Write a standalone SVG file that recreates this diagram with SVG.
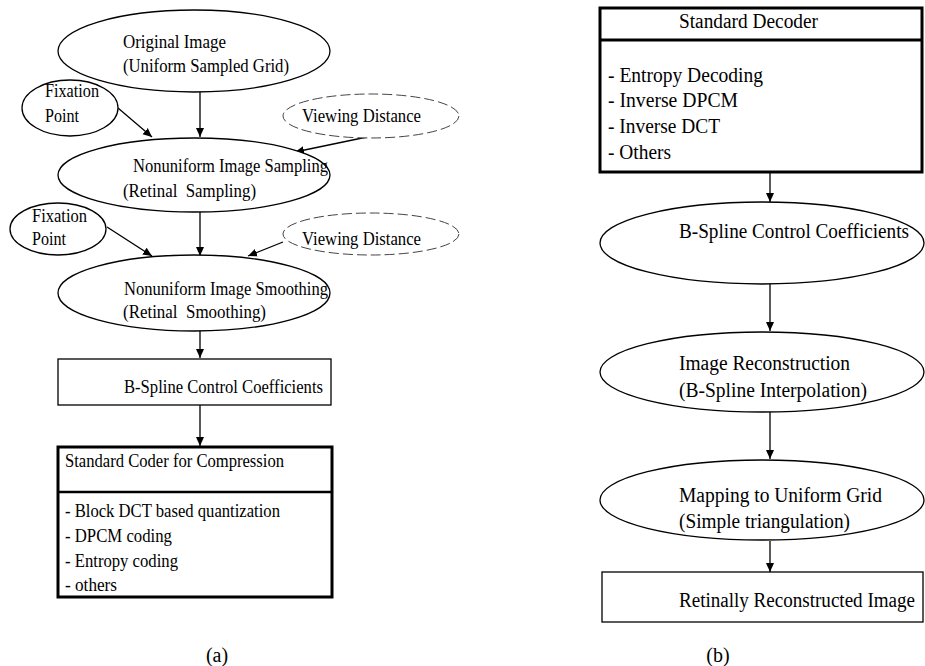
<svg xmlns="http://www.w3.org/2000/svg" width="925" height="666" viewBox="0 0 925 666">
<style>
.n{fill:#fff;stroke:#000;stroke-width:1.3}
.d{fill:#fff;stroke:#444;stroke-width:1;stroke-dasharray:10 4}
.b{fill:#fff;stroke:#000;stroke-width:3}
.t{font-family:"Liberation Serif","Times New Roman",serif;font-size:19px;fill:#000;white-space:pre}
.u{font-family:"Liberation Serif","Times New Roman",serif;font-size:20px;fill:#000;white-space:pre}
.c{stroke:#000;stroke-width:1.3;fill:none;marker-end:url(#ah)}
</style>
<defs>
<marker id="ah" markerWidth="10" markerHeight="10" refX="9" refY="5" orient="auto" markerUnits="userSpaceOnUse">
<path d="M0,1 L9,5 L0,9 Z" fill="#000"/>
</marker>
</defs>
<rect width="925" height="666" fill="#fff"/>
<g id="connectors">
<line class="c" x1="200" y1="92" x2="200" y2="137"/>
<line class="c" x1="118" y1="108" x2="152" y2="137"/>
<line class="c" x1="367" y1="137" x2="295" y2="152"/>
<line class="c" x1="200" y1="212" x2="200" y2="256"/>
<line class="c" x1="107" y1="227" x2="152" y2="256"/>
<line class="c" x1="283" y1="242" x2="248" y2="256"/>
<line class="c" x1="200" y1="331" x2="200" y2="358"/>
<line class="c" x1="200" y1="405" x2="200" y2="446"/>
<line class="c" x1="770" y1="172" x2="770" y2="202"/>
<line class="c" x1="770" y1="283" x2="770" y2="331"/>
<line class="c" x1="770" y1="412" x2="770" y2="459"/>
<line class="c" x1="770" y1="541" x2="770" y2="572"/>
</g>
<g id="original">
<ellipse class="n" cx="194" cy="51" rx="136" ry="41"/>
<text class="t" x="123" y="48" textLength="103" lengthAdjust="spacingAndGlyphs">Original Image</text>
<text class="t" x="123" y="72" textLength="166" lengthAdjust="spacingAndGlyphs">(Uniform Sampled Grid)</text>
</g>
<g id="fixation1">
<ellipse class="n" cx="70" cy="108" rx="48" ry="28"/>
<text class="t" x="45" y="97" textLength="54" lengthAdjust="spacingAndGlyphs">Fixation</text>
<text class="t" x="45" y="122" textLength="34" lengthAdjust="spacingAndGlyphs">Point</text>
</g>
<g id="viewing1">
<ellipse class="d" cx="371" cy="116" rx="88" ry="22"/>
<text class="t" x="302" y="122" textLength="119" lengthAdjust="spacingAndGlyphs">Viewing Distance</text>
</g>
<g id="sampling">
<ellipse class="n" cx="194" cy="175" rx="136" ry="37"/>
<text class="t" x="133" y="172" textLength="195" lengthAdjust="spacingAndGlyphs">Nonuniform Image Sampling</text>
<text class="t" x="123" y="197" textLength="133" lengthAdjust="spacingAndGlyphs">(Retinal  Sampling)</text>
</g>
<g id="fixation2">
<ellipse class="n" cx="58" cy="229" rx="48" ry="26"/>
<text class="t" x="32" y="222" textLength="55" lengthAdjust="spacingAndGlyphs">Fixation</text>
<text class="t" x="32" y="245" textLength="34" lengthAdjust="spacingAndGlyphs">Point</text>
</g>
<g id="viewing2">
<ellipse class="d" cx="371" cy="234" rx="88" ry="21"/>
<text class="t" x="302" y="245" textLength="119" lengthAdjust="spacingAndGlyphs">Viewing Distance</text>
</g>
<g id="smoothing">
<ellipse class="n" cx="194" cy="293" rx="136" ry="38"/>
<text class="t" x="124" y="295" textLength="204" lengthAdjust="spacingAndGlyphs">Nonuniform Image Smoothing</text>
<text class="t" x="123" y="318" textLength="143" lengthAdjust="spacingAndGlyphs">(Retinal  Smoothing)</text>
</g>
<g id="bspline-a">
<rect class="n" x="58" y="359" width="273" height="46"/>
<text class="t" x="124" y="393" textLength="199" lengthAdjust="spacingAndGlyphs">B-Spline Control Coefficients</text>
</g>
<g id="coder">
<rect class="b" x="58" y="447" width="274" height="150" stroke-width="2.5"/>
<line x1="58" y1="492" x2="332" y2="492" stroke="#000" stroke-width="2.5"/>
<text class="t" x="65" y="467" textLength="219" lengthAdjust="spacingAndGlyphs">Standard Coder for Compression</text>
<text class="t" x="65" y="517" textLength="215" lengthAdjust="spacingAndGlyphs">- Block DCT based quantization</text>
<text class="t" x="65" y="542" textLength="107" lengthAdjust="spacingAndGlyphs">- DPCM coding</text>
<text class="t" x="65" y="567" textLength="113" lengthAdjust="spacingAndGlyphs">- Entropy coding</text>
<text class="t" x="65" y="591" textLength="52" lengthAdjust="spacingAndGlyphs">- others</text>
</g>
<text class="u" x="217" y="662" text-anchor="middle">(a)</text>
<g id="decoder">
<rect class="b" x="600" y="8" width="322" height="164"/>
<line x1="600" y1="40" x2="922" y2="40" stroke="#000" stroke-width="3"/>
<text class="u" x="679" y="28" textLength="139" lengthAdjust="spacingAndGlyphs">Standard Decoder</text>
<text class="u" x="608" y="82" textLength="155" lengthAdjust="spacingAndGlyphs">- Entropy Decoding</text>
<text class="u" x="608" y="107" textLength="130" lengthAdjust="spacingAndGlyphs">- Inverse DPCM</text>
<text class="u" x="608" y="133" textLength="112" lengthAdjust="spacingAndGlyphs">- Inverse DCT</text>
<text class="u" x="608" y="159" textLength="63" lengthAdjust="spacingAndGlyphs">- Others</text>
</g>
<g id="bspline-b">
<ellipse class="n" cx="762" cy="243" rx="162" ry="41"/>
<text class="u" x="679" y="238" textLength="230" lengthAdjust="spacingAndGlyphs">B-Spline Control Coefficients</text>
</g>
<g id="reconstruction">
<ellipse class="n" cx="762" cy="372" rx="162" ry="40"/>
<text class="u" x="679" y="370" textLength="171" lengthAdjust="spacingAndGlyphs">Image Reconstruction</text>
<text class="u" x="679" y="397" textLength="188" lengthAdjust="spacingAndGlyphs">(B-Spline Interpolation)</text>
</g>
<g id="mapping">
<ellipse class="n" cx="762" cy="500" rx="162" ry="40"/>
<text class="u" x="679" y="502" textLength="203" lengthAdjust="spacingAndGlyphs">Mapping to Uniform Grid</text>
<text class="u" x="679" y="528" textLength="171" lengthAdjust="spacingAndGlyphs">(Simple triangulation)</text>
</g>
<g id="retinal">
<rect class="n" x="602" y="572" width="321" height="50"/>
<text class="u" x="679" y="607" textLength="236" lengthAdjust="spacingAndGlyphs">Retinally Reconstructed Image</text>
</g>
<text class="u" x="718" y="662" text-anchor="middle">(b)</text>
</svg>
